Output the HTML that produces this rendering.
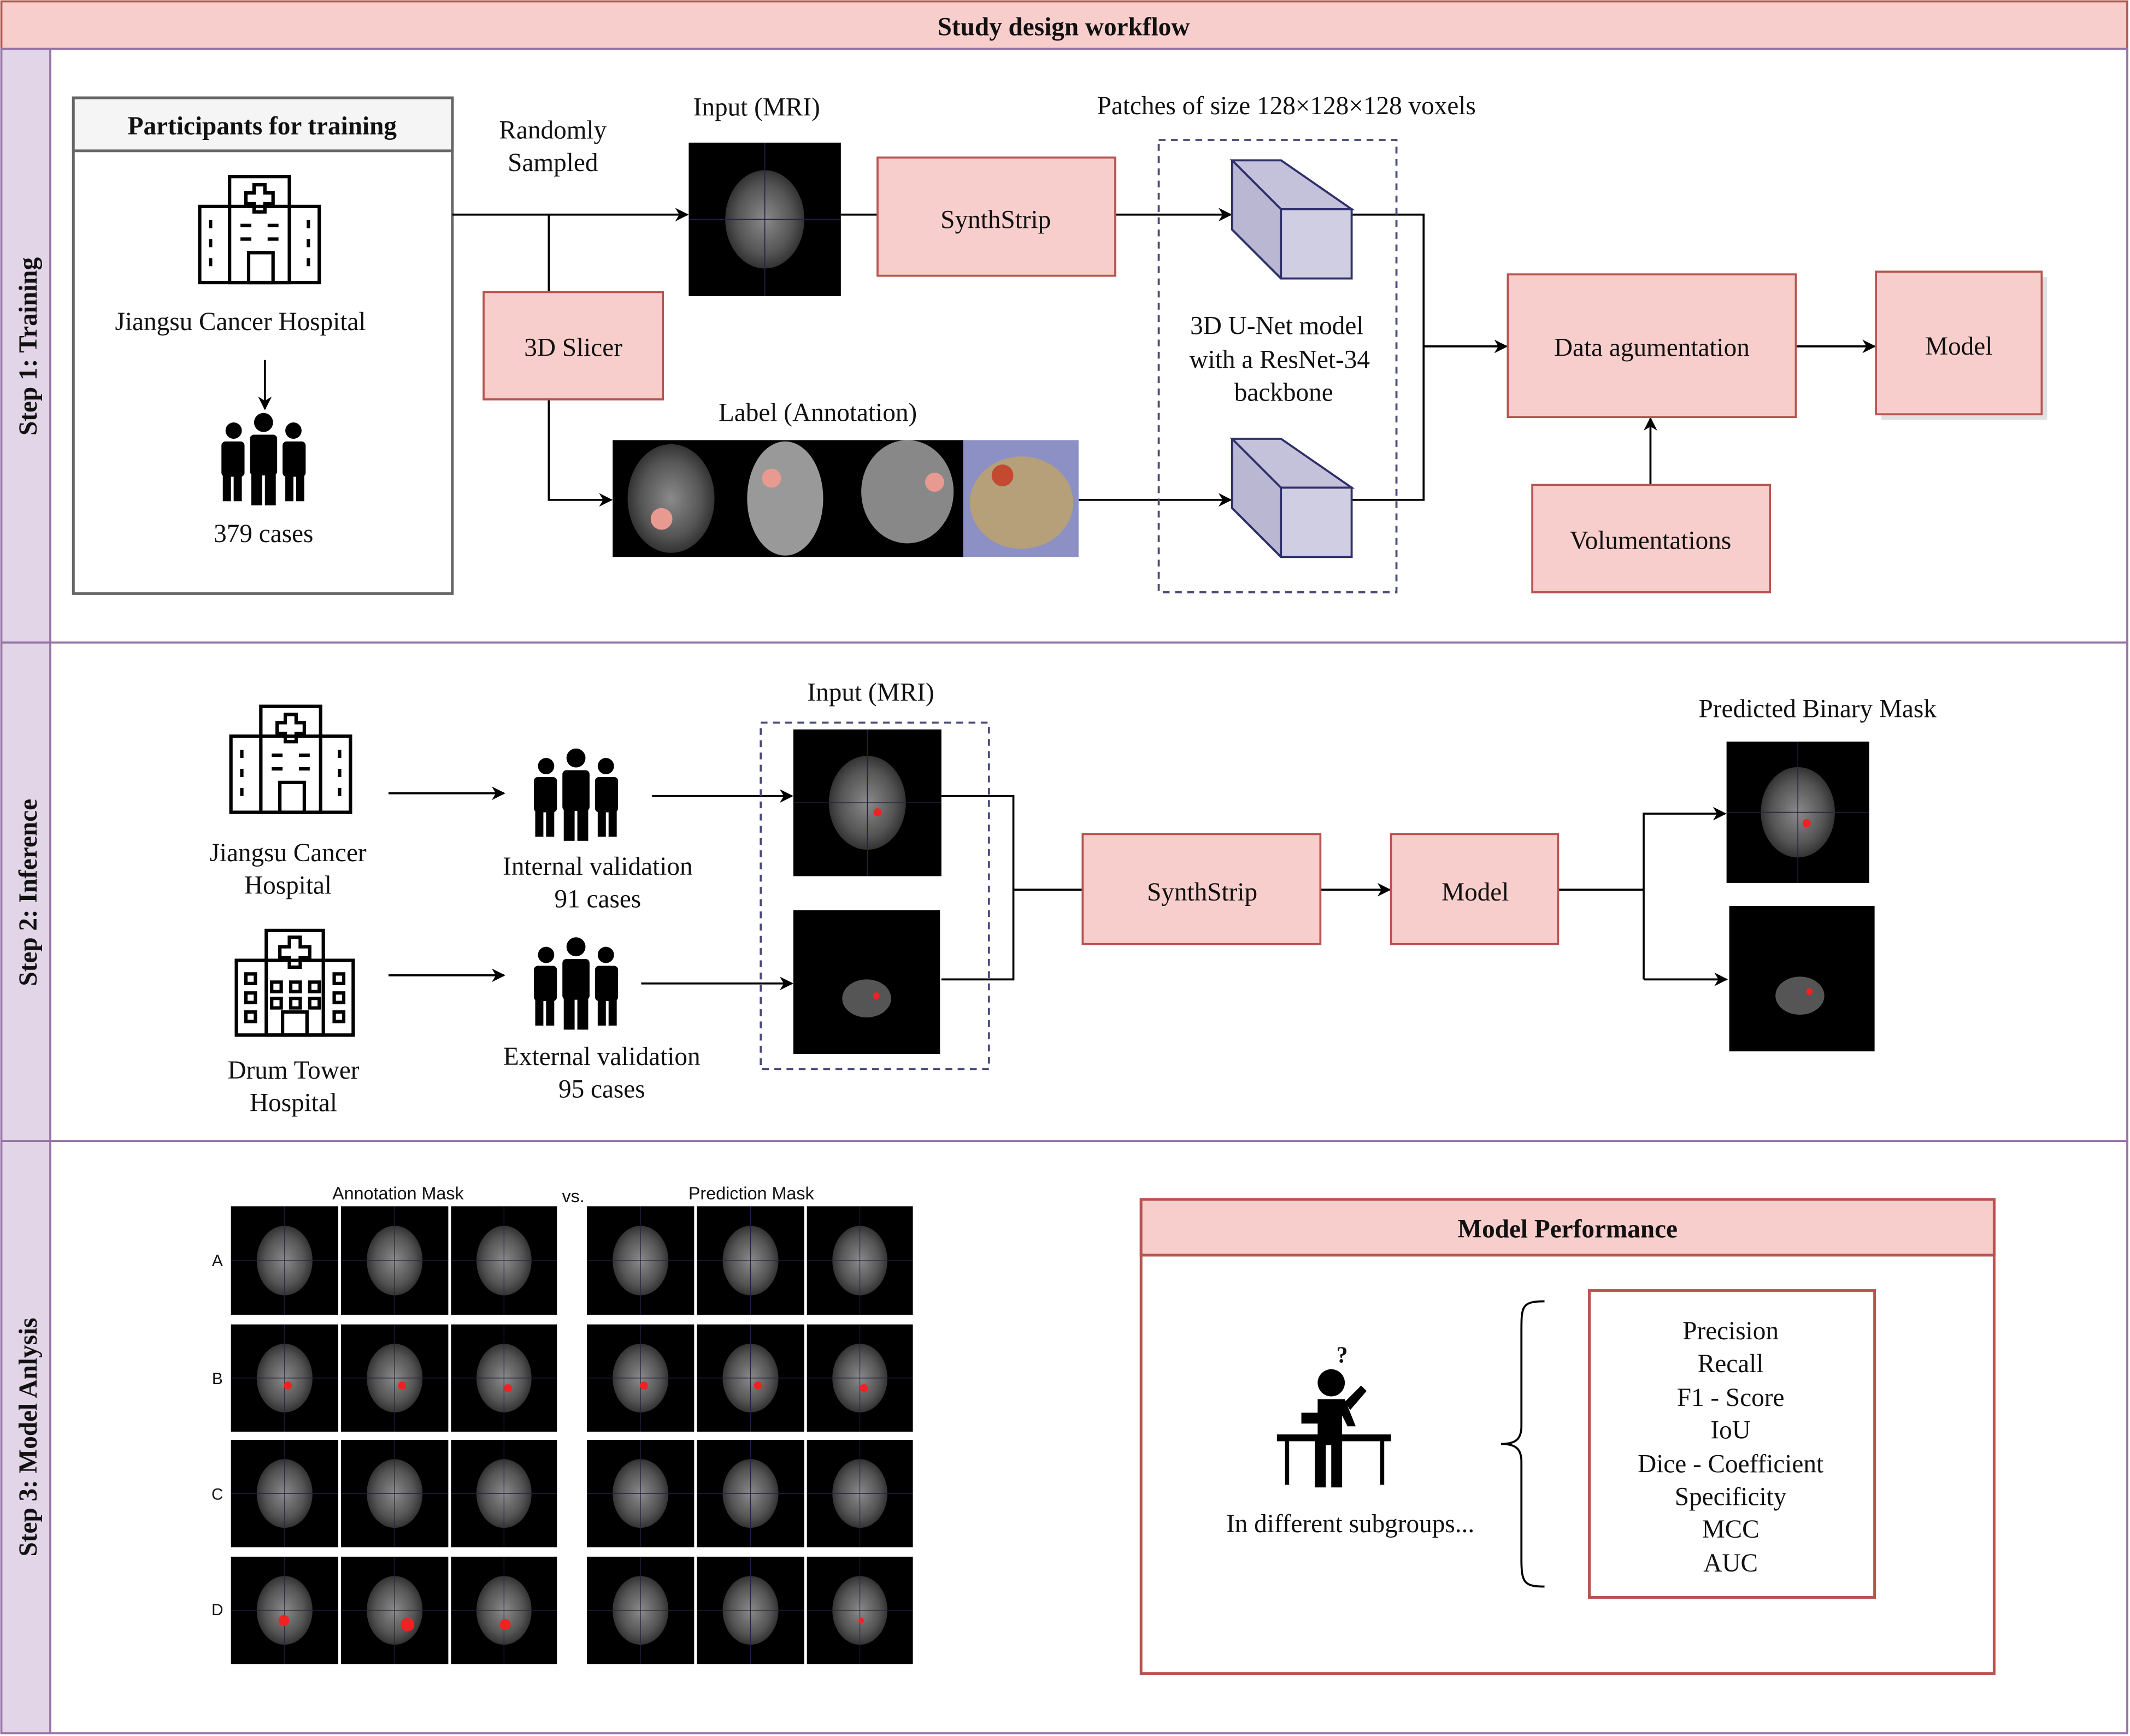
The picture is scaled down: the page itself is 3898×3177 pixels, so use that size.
<!DOCTYPE html>
<html><head><meta charset="utf-8"><style>
html,body{margin:0;padding:0;background:#fff;}
svg{display:block;}
text{font-family:"Liberation Serif",serif;fill:#111;}
.s{font-family:"Liberation Sans",sans-serif;}
</style></head><body>
<svg width="3898" height="3177" viewBox="0 0 1568 1278" xmlns="http://www.w3.org/2000/svg">
<defs>
<radialGradient id="br" cx="50%" cy="50%" r="50%"><stop offset="0" stop-color="#8a8a8a"/><stop offset="0.7" stop-color="#555"/><stop offset="1" stop-color="#333"/></radialGradient>
<marker id="a" markerWidth="10" markerHeight="10" refX="9" refY="5" orient="auto" markerUnits="userSpaceOnUse" viewBox="0 0 10 10"><path d="M0,0 L10,5 L0,10 L3,5 z" fill="#000"/></marker>
<g id="hosp" fill="none" stroke="#000" stroke-width="2.5">
<rect x="0" y="22" width="88" height="56"/><rect x="22" y="0" width="44" height="78"/><rect x="36" y="56" width="18" height="22"/>
<path d="M40 6h8v6h6v8h-6v6h-8v-6h-6v-8h6z"/>
<path d="M30 36h8M50 36h8M30 46h8M50 46h8M8 32v6M8 46v6M8 60v6M80 32v6M80 46v6M80 60v6"/>
</g>
<g id="ppl" fill="#000">
<circle cx="34" cy="8" r="7"/><rect x="24" y="17" width="20" height="30" rx="3"/><rect x="25" y="45" width="8" height="24"/><rect x="35" y="45" width="8" height="24"/>
<circle cx="12" cy="14" r="6"/><rect x="3" y="22" width="17" height="26" rx="3"/><rect x="4" y="46" width="6" height="20"/><rect x="12" y="46" width="6" height="20"/>
<circle cx="56" cy="14" r="6"/><rect x="48" y="22" width="17" height="26" rx="3"/><rect x="50" y="46" width="6" height="20"/><rect x="58" y="46" width="6" height="20"/>
</g>
<g id="mri"><rect width="100" height="100" fill="#000"/><ellipse cx="50" cy="50" rx="26" ry="32" fill="url(#br)"/><path d="M0 50H100M50 0V100" stroke="#224" stroke-width="0.6"/></g>
<g id="cube" stroke="#2f2f6a" stroke-width="1.5" fill="#d0cee2"><path d="M0 0L36 0L88 36L88 87L36 87L0 51z" fill="#b9b7d2"/><path d="M0 0L36 0L88 36L36 36z" fill="#c4c2db"/><rect x="36" y="36" width="52" height="51"/><path d="M0 0L36 36"/><path d="M36 87L0 51"/></g>
</defs>
<rect x="0" y="0" width="1568" height="1278" fill="#fff"/>
<!-- header -->
<rect x="1" y="1" width="1565" height="35" fill="#f8cecc" stroke="#b85450" stroke-width="1.5"/>
<text x="783" y="26" text-anchor="middle" font-weight="bold" font-size="19">Study design workflow</text>
<!-- lanes -->
<g stroke="#9673a6" stroke-width="1.5">
<rect x="1" y="36" width="1565" height="437" fill="#fff"/>
<rect x="1" y="473" width="1565" height="367" fill="#fff"/>
<rect x="1" y="840" width="1565" height="436" fill="#fff"/>
<rect x="1" y="36" width="36" height="437" fill="#e1d5e7"/>
<rect x="1" y="473" width="36" height="367" fill="#e1d5e7"/>
<rect x="1" y="840" width="36" height="436" fill="#e1d5e7"/>
</g>
<text transform="translate(27,255) rotate(-90)" text-anchor="middle" font-weight="bold" font-size="19">Step 1: Training</text>
<text transform="translate(27,657) rotate(-90)" text-anchor="middle" font-weight="bold" font-size="19">Step 2: Inference</text>
<text transform="translate(27,1058) rotate(-90)" text-anchor="middle" font-weight="bold" font-size="19">Step 3: Model Anlysis</text>

<!-- Step 1 -->
<rect x="54" y="72" width="279" height="365" fill="#fff" stroke="#666" stroke-width="2"/>
<rect x="54" y="72" width="279" height="39" fill="#f5f5f5" stroke="#666" stroke-width="2"/>
<text x="193" y="99" text-anchor="middle" font-weight="bold" font-size="19" fill="#333">Participants for training</text>
<use href="#hosp" x="147" y="130"/>
<text x="177" y="243" text-anchor="middle" font-size="19">Jiangsu Cancer Hospital</text>
<line x1="195" y1="265" x2="195" y2="301" stroke="#000" stroke-width="1.5" marker-end="url(#a)"/>
<use href="#ppl" x="160" y="303"/>
<text x="194" y="399" text-anchor="middle" font-size="19">379 cases</text>

<text x="407" y="102" text-anchor="middle" font-size="19">Randomly</text>
<text x="407" y="126" text-anchor="middle" font-size="19">Sampled</text>
<g stroke="#000" stroke-width="1.5" fill="none">
<line x1="333" y1="158" x2="506" y2="158" marker-end="url(#a)"/>
<line x1="404" y1="158" x2="404" y2="215"/>
<polyline points="404,294 404,368 450,368" marker-end="url(#a)"/>
<line x1="619" y1="158" x2="646" y2="158"/>
<line x1="821" y1="158" x2="906" y2="158" marker-end="url(#a)"/>
<line x1="794" y1="368" x2="906" y2="368" marker-end="url(#a)"/>
<polyline points="995,158 1048,158 1048,368 995,368"/>
<line x1="1048" y1="255" x2="1109" y2="255" marker-end="url(#a)"/>
<line x1="1322" y1="255" x2="1380" y2="255" marker-end="url(#a)"/>
<line x1="1215" y1="357" x2="1215" y2="308" marker-end="url(#a)"/>
</g>
<rect x="356" y="215" width="132" height="79" fill="#f8cecc" stroke="#b85450" stroke-width="1.5"/>
<text x="422" y="262" text-anchor="middle" font-size="19">3D Slicer</text>
<text x="557" y="85" text-anchor="middle" font-size="19">Input (MRI)</text>
<g transform="translate(507,105) scale(1.12,1.13)"><use href="#mri"/></g>
<rect x="646" y="116" width="175" height="87" fill="#f8cecc" stroke="#b85450" stroke-width="1.5"/>
<text x="733" y="168" text-anchor="middle" font-size="19">SynthStrip</text>
<text x="947" y="84" text-anchor="middle" font-size="19">Patches of size 128×128×128 voxels</text>
<rect x="853" y="103" width="175" height="333" fill="none" stroke="#4a4a7a" stroke-width="1.5" stroke-dasharray="5,4"/>
<use href="#cube" x="907" y="118"/>
<use href="#cube" x="907" y="323"/>
<text x="940" y="246" text-anchor="middle" font-size="19">3D U-Net model</text>
<text x="942" y="271" text-anchor="middle" font-size="19">with a ResNet-34</text>
<text x="945" y="295" text-anchor="middle" font-size="19">backbone</text>
<text x="602" y="310" text-anchor="middle" font-size="19">Label (Annotation)</text>
<rect x="451" y="324" width="260" height="86" fill="#000"/>
<ellipse cx="494" cy="367" rx="32" ry="40" fill="url(#br)"/>
<circle cx="487" cy="382" r="8" fill="#e89a90"/>
<ellipse cx="578" cy="367" rx="28" ry="42" fill="#999"/>
<circle cx="568" cy="352" r="7" fill="#e89a90"/>
<ellipse cx="668" cy="362" rx="34" ry="38" fill="#888"/>
<circle cx="688" cy="355" r="7" fill="#e89a90"/>
<rect x="709" y="324" width="85" height="86" fill="#8d90c4"/>
<ellipse cx="752" cy="370" rx="38" ry="34" fill="#b5a07a"/>
<circle cx="738" cy="350" r="8" fill="#c24a30"/>
<rect x="1110" y="202" width="212" height="105" fill="#f8cecc" stroke="#b85450" stroke-width="1.5"/>
<text x="1216" y="262" text-anchor="middle" font-size="19">Data agumentation</text>
<rect x="1385" y="204" width="122" height="105" fill="#ccc" opacity="0.6"/>
<rect x="1381" y="200" width="122" height="105" fill="#f8cecc" stroke="#b85450" stroke-width="1.5"/>
<text x="1442" y="261" text-anchor="middle" font-size="19">Model</text>
<rect x="1128" y="357" width="175" height="79" fill="#f8cecc" stroke="#b85450" stroke-width="1.5"/>
<text x="1215" y="404" text-anchor="middle" font-size="19">Volumentations</text>

<!-- Step 2 -->
<use href="#hosp" x="170" y="520"/>
<text x="212" y="634" text-anchor="middle" font-size="19">Jiangsu Cancer</text>
<text x="212" y="658" text-anchor="middle" font-size="19">Hospital</text>
<g transform="translate(174,685)" fill="none" stroke="#000" stroke-width="2.5">
<rect x="0" y="22" width="86" height="55"/><rect x="22" y="0" width="42" height="77"/><rect x="34" y="60" width="18" height="17"/>
<path d="M39 5h8v7h7v8h-7v7h-8v-7h-7v-8h7z"/>
<path d="M26 38h7v7h-7zM40 38h7v7h-7zM54 38h7v7h-7zM26 50h7v7h-7zM40 50h7v7h-7zM54 50h7v7h-7zM7 32h7v7h-7zM7 46h7v7h-7zM7 60h7v7h-7zM72 32h7v7h-7zM72 46h7v7h-7zM72 60h7v7h-7z"/>
</g>
<text x="216" y="794" text-anchor="middle" font-size="19">Drum Tower</text>
<text x="216" y="818" text-anchor="middle" font-size="19">Hospital</text>
<use href="#ppl" x="390" y="550"/>
<use href="#ppl" x="390" y="689"/>
<text x="440" y="644" text-anchor="middle" font-size="19">Internal validation</text>
<text x="440" y="668" text-anchor="middle" font-size="19">91 cases</text>
<text x="443" y="784" text-anchor="middle" font-size="19">External validation</text>
<text x="443" y="808" text-anchor="middle" font-size="19">95 cases</text>
<g stroke="#000" stroke-width="1.5" fill="none">
<line x1="286" y1="584" x2="371" y2="584" marker-end="url(#a)"/>
<line x1="286" y1="718" x2="371" y2="718" marker-end="url(#a)"/>
<line x1="480" y1="586" x2="583" y2="586" marker-end="url(#a)"/>
<line x1="472" y1="724" x2="583" y2="724" marker-end="url(#a)"/>
<polyline points="693,586 746,586 746,721 693,721"/>
<line x1="746" y1="655" x2="797" y2="655"/>
<line x1="972" y1="655" x2="1023" y2="655" marker-end="url(#a)"/>
<line x1="1147" y1="655" x2="1210" y2="655"/>
<polyline points="1210,721 1210,599 1270,599" marker-end="url(#a)"/>
<line x1="1210" y1="721" x2="1271" y2="721" marker-end="url(#a)"/>
</g>
<text x="641" y="516" text-anchor="middle" font-size="19">Input (MRI)</text>
<rect x="560" y="532" width="168" height="255" fill="none" stroke="#4a4a7a" stroke-width="1.5" stroke-dasharray="5,4"/>
<g transform="translate(584,537) scale(1.09,1.08)"><use href="#mri"/></g>
<circle cx="646" cy="598" r="3" fill="#e22"/>
<rect x="584" y="670" width="108" height="106" fill="#000"/>
<ellipse cx="638" cy="735" rx="18" ry="14" fill="#555"/><circle cx="645" cy="733" r="2.5" fill="#e22"/>
<rect x="797" y="614" width="175" height="81" fill="#f8cecc" stroke="#b85450" stroke-width="1.5"/>
<text x="885" y="663" text-anchor="middle" font-size="19">SynthStrip</text>
<rect x="1024" y="614" width="123" height="81" fill="#f8cecc" stroke="#b85450" stroke-width="1.5"/>
<text x="1086" y="663" text-anchor="middle" font-size="19">Model</text>
<text x="1338" y="528" text-anchor="middle" font-size="19">Predicted Binary Mask</text>
<g transform="translate(1271,546) scale(1.05,1.04)"><use href="#mri"/></g>
<circle cx="1330" cy="606" r="3" fill="#e22"/>
<rect x="1273" y="667" width="107" height="107" fill="#000"/>
<ellipse cx="1325" cy="733" rx="18" ry="14" fill="#555"/><circle cx="1332" cy="730" r="2.5" fill="#e22"/>

<!-- Step 3 -->
<text x="293" y="883" text-anchor="middle" font-size="13" class="s">Annotation Mask</text>
<text x="422" y="885" text-anchor="middle" font-size="13" class="s">vs.</text>
<text x="553" y="883" text-anchor="middle" font-size="13" class="s">Prediction Mask</text>
<g font-size="12" class="s">
<text x="160" y="932" text-anchor="middle" class="s">A</text>
<text x="160" y="1019" text-anchor="middle" class="s">B</text>
<text x="160" y="1104" text-anchor="middle" class="s">C</text>
<text x="160" y="1189" text-anchor="middle" class="s">D</text>
</g>
<g id="grid">
<g transform="translate(170,888) scale(0.79,0.8)"><use href="#mri"/></g>
<g transform="translate(251,888) scale(0.79,0.8)"><use href="#mri"/></g>
<g transform="translate(332,888) scale(0.78,0.8)"><use href="#mri"/></g>
<g transform="translate(170,975) scale(0.79,0.79)"><use href="#mri"/></g>
<g transform="translate(251,975) scale(0.79,0.79)"><use href="#mri"/></g>
<g transform="translate(332,975) scale(0.78,0.79)"><use href="#mri"/></g>
<g transform="translate(170,1060) scale(0.79,0.79)"><use href="#mri"/></g>
<g transform="translate(251,1060) scale(0.79,0.79)"><use href="#mri"/></g>
<g transform="translate(332,1060) scale(0.78,0.79)"><use href="#mri"/></g>
<g transform="translate(170,1146) scale(0.79,0.79)"><use href="#mri"/></g>
<g transform="translate(251,1146) scale(0.79,0.79)"><use href="#mri"/></g>
<g transform="translate(332,1146) scale(0.78,0.79)"><use href="#mri"/></g>
</g>
<use href="#grid" x="262"/>
<g fill="#e22">
<circle cx="212" cy="1020" r="3"/><circle cx="296" cy="1020" r="3"/><circle cx="374" cy="1022" r="3"/>
<circle cx="209" cy="1193" r="4"/><circle cx="300" cy="1196" r="5"/><circle cx="372" cy="1196" r="4"/>
<circle cx="474" cy="1020" r="3"/><circle cx="558" cy="1020" r="3"/><circle cx="636" cy="1022" r="3"/>
<circle cx="634" cy="1193" r="2"/>
</g>
<rect x="840" y="883" width="628" height="349" fill="#fff" stroke="#b85450" stroke-width="2"/>
<rect x="840" y="883" width="628" height="41" fill="#f8cecc" stroke="#b85450" stroke-width="2"/>
<text x="1154" y="911" text-anchor="middle" font-weight="bold" font-size="19">Model Performance</text>
<g fill="#000">
<text x="988" y="1003" text-anchor="middle" font-size="17" font-weight="bold">?</text>
<circle cx="980" cy="1018" r="10"/>
<path d="M970 1030h20l8 20h-6l-4-8v22h-18z"/>
<path d="M990 1032l12-12l4 4l-12 14z"/>
<path d="M958 1040h14v8h-14z"/>
<rect x="940" y="1056" width="84" height="5"/>
<rect x="946" y="1061" width="3" height="32"/><rect x="1016" y="1061" width="3" height="32"/>
<rect x="968" y="1061" width="8" height="34"/><rect x="980" y="1061" width="8" height="34"/>
</g>
<text x="994" y="1128" text-anchor="middle" font-size="19">In different subgroups...</text>
<path d="M1137 958 C1120 958 1120 962 1120 980 L1120 1050 C1120 1060 1115 1063 1105 1063 C1115 1063 1120 1066 1120 1076 L1120 1148 C1120 1165 1122 1168 1137 1168" fill="none" stroke="#000" stroke-width="1.5"/>
<rect x="1170" y="950" width="210" height="226" fill="#fff" stroke="#b85450" stroke-width="2"/>
<g font-size="19" text-anchor="middle">
<text x="1274" y="986">Precision</text>
<text x="1274" y="1010">Recall</text>
<text x="1274" y="1035">F1 - Score</text>
<text x="1274" y="1059">IoU</text>
<text x="1274" y="1084">Dice - Coefficient</text>
<text x="1274" y="1108">Specificity</text>
<text x="1274" y="1132">MCC</text>
<text x="1274" y="1157">AUC</text>
</g>
</svg>
</body></html>
